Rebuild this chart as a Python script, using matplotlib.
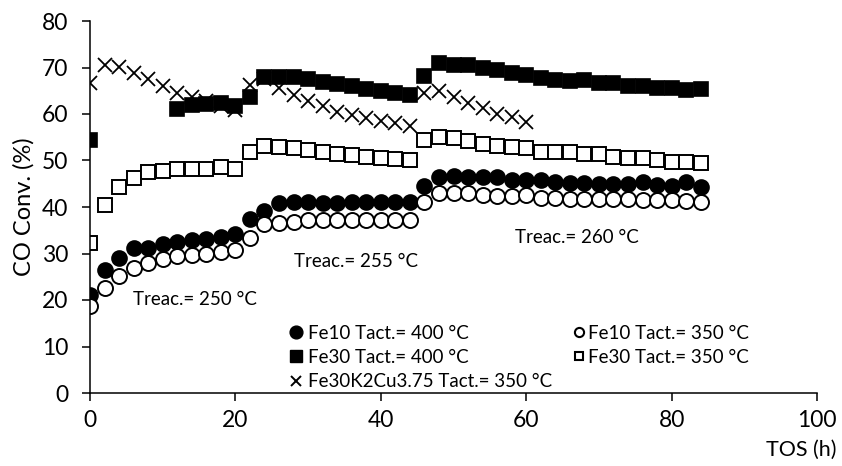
import matplotlib
matplotlib.use("Agg")
import matplotlib.pyplot as plt
from matplotlib.lines import Line2D
import numpy as np

plt.rcParams['font.family'] = ['Lato', 'DejaVu Sans']

tos_full = list(range(0, 86, 2))
fe10_400 = [21.1, 26.4, 29.0, 31.2, 31.2, 32.0, 32.5, 32.9, 33.1, 33.5, 34.2, 37.4, 39.1,
            40.8, 41.0, 41.1, 40.8, 40.8, 41.0, 41.1, 41.1, 41.1, 41.1, 44.5, 46.5, 46.6,
            46.5, 46.4, 46.4, 45.8, 45.9, 45.8, 45.4, 45.2, 45.2, 44.9, 44.9, 44.9, 45.4,
            44.7, 44.5, 45.4, 44.4]
fe10_350 = [18.7, 22.6, 25.2, 26.9, 28.0, 28.8, 29.5, 29.7, 29.9, 30.3, 30.8, 33.4, 36.3,
            36.6, 36.8, 37.1, 37.1, 37.1, 37.1, 37.1, 37.1, 37.1, 37.1, 41.0, 43.0, 43.1,
            43.0, 42.6, 42.4, 42.4, 42.5, 42.0, 41.9, 41.8, 41.8, 41.8, 41.7, 41.7, 41.6,
            41.6, 41.5, 41.3, 41.1]
tos_fe30_400 = [0] + list(range(12, 86, 2))
fe30_400 = [54.4, 61.1, 61.9, 62.2, 62.4, 61.7, 63.7, 68.0, 68.0, 68.0, 67.6, 66.9, 66.5,
            66.0, 65.4, 64.9, 64.5, 64.1, 68.2, 71.0, 70.5, 70.5, 69.9, 69.5, 68.9, 68.4,
            67.8, 67.3, 67.0, 67.3, 66.6, 66.6, 66.0, 66.0, 65.5, 65.5, 65.2, 65.3]
fe30_350 = [32.3, 40.4, 44.3, 46.2, 47.5, 47.7, 48.2, 48.2, 48.2, 48.6, 48.2, 51.8, 53.1,
            53.0, 52.7, 52.3, 51.9, 51.5, 51.2, 50.8, 50.6, 50.3, 50.1, 54.4, 55.0, 54.8,
            54.1, 53.5, 53.1, 52.8, 52.7, 51.9, 51.9, 51.9, 51.4, 51.5, 50.8, 50.5, 50.5,
            50.1, 49.7, 49.7, 49.4]
tos_k2cu = list(range(0, 62, 2))
fe30k2cu_350 = [66.7, 70.5, 70.1, 68.8, 67.5, 66.0, 64.5, 63.7, 62.8, 61.8, 60.9, 66.2,
                67.5, 65.6, 64.1, 62.8, 61.7, 60.5, 59.8, 59.1, 58.6, 58.0, 57.4, 64.5,
                65.0, 63.7, 62.3, 61.2, 60.0, 59.3, 58.3]

labels = ["Fe10 Tact.= 400 °C", "Fe10 Tact.= 350 °C", "Fe30 Tact.= 400 °C",
          "Fe30 Tact.= 350 °C", "Fe30K2Cu3.75 Tact.= 350 °C"]
annotations = [(5.9, 20.2, "Treac.= 250 °C"), (28.0, 28.2, "Treac.= 255 °C"),
               (58.4, 33.5, "Treac.= 260 °C")]

fig = plt.figure(figsize=(8.42, 4.66), dpi=100)
ax = fig.add_axes([90/842, 1-393/466, 727/842, 372/466])

ax.plot(tos_full, fe10_400, 'o', ms=10.8, mfc='black', mec='black', mew=1.2, ls='none')
ax.plot(tos_full, fe10_350, 'o', ms=10.8, mfc='white', mec='black', mew=1.4, ls='none')
ax.plot(tos_fe30_400, fe30_400, 's', ms=10.2, mfc='black', mec='black', mew=1.2, ls='none')
ax.plot(tos_full, fe30_350, 's', ms=10.2, mfc='white', mec='black', mew=1.4, ls='none')
ax.plot(tos_k2cu, fe30k2cu_350, 'x', ms=9.5, mec='black', mew=1.3, ls='none')

for x, y, t in annotations:
    ax.text(x, y, t, fontsize=13.5, ha='left', va='center')

ax.set_xlim(0, 100)
ax.set_ylim(0, 80)
ax.set_xticks(range(0, 101, 20))
ax.set_yticks(range(0, 81, 10))
ax.tick_params(axis='both', labelsize=16.5, length=5.5, width=1.1, direction='out')
ax.tick_params(axis='y', pad=10)
ax.tick_params(axis='x', pad=7)
for s in ['top', 'right']:
    ax.spines[s].set_visible(False)
for s in ['left', 'bottom']:
    ax.spines[s].set_linewidth(1.1)

ax.set_ylabel("CO Conv. (%)", fontsize=17, labelpad=5)
ax.text(1.027, -0.153, "TOS (h)", transform=ax.transAxes, fontsize=15.5, ha='right', va='center')

# legend proxies (styles only)
lh1 = Line2D([], [], marker='o', ms=9.2, mfc='black', mec='black', ls='none')
lh3 = Line2D([], [], marker='s', ms=9.0, mfc='black', mec='black', ls='none')
lh5 = Line2D([], [], marker='x', ms=7.8, mec='black', mew=1.4, ls='none')
lh2 = Line2D([], [], marker='o', ms=6.6, mfc='white', mec='black', mew=1.5, ls='none')
lh4 = Line2D([], [], marker='s', ms=6.4, mfc='white', mec='black', mew=1.5, ls='none')

leg1 = ax.legend([lh1, lh3, lh5], [labels[0], labels[2], labels[4]],
                 frameon=False, fontsize=13.5, loc='upper left',
                 bbox_to_anchor=(0.2744, 0.1835), handlelength=0.7, handletextpad=0.29,
                 labelspacing=0.39, borderaxespad=0, borderpad=0)
ax.add_artist(leg1)
leg2 = ax.legend([lh2, lh4], [labels[1], labels[3]],
                 frameon=False, fontsize=13.5, loc='upper left',
                 bbox_to_anchor=(0.666, 0.1835), handlelength=0.5, handletextpad=0.22,
                 labelspacing=0.39, borderaxespad=0, borderpad=0)

fig.savefig("out.png", dpi=100)
